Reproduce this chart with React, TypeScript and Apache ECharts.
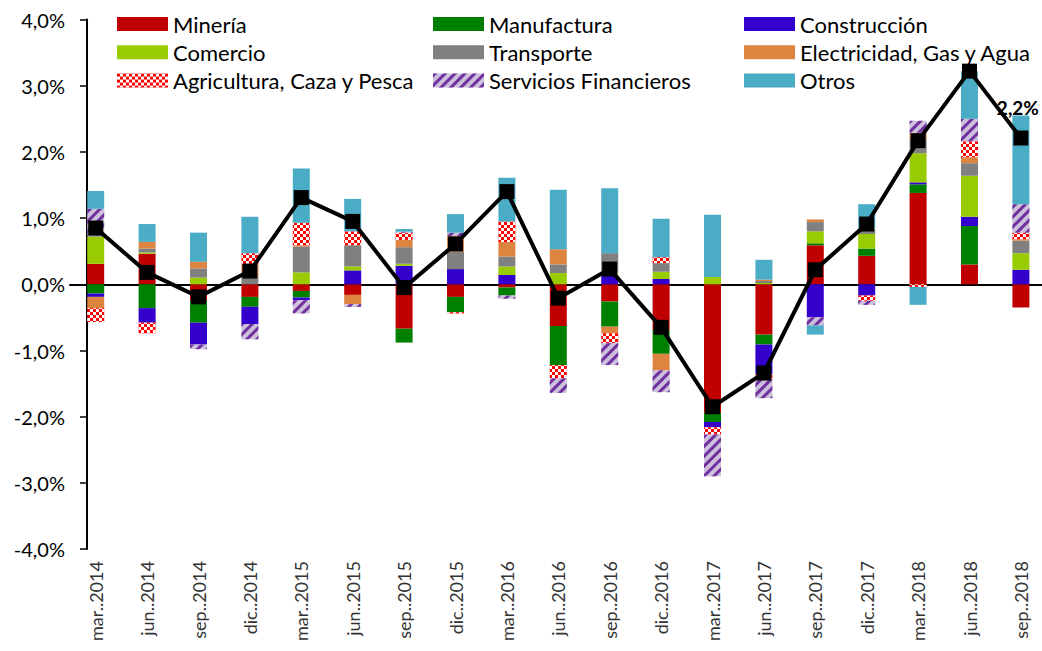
import React, { useEffect, useRef } from "react";
import * as echarts from "echarts";

const categories = [
  "mar..2014", "jun..2014", "sep..2014", "dic..2014",
  "mar..2015", "jun..2015", "sep..2015", "dic..2015",
  "mar..2016", "jun..2016", "sep..2016", "dic..2016",
  "mar..2017", "jun..2017", "sep..2017", "dic..2017",
  "mar..2018", "jun..2018", "sep..2018",
];

const mineria = [0.31, 0.46, -0.25, -0.19, -0.1, -0.16, -0.67, -0.19, -0.05, -0.63, -0.26, -0.69, -1.94, -0.76, 0.59, 0.43, 1.38, 0.3, -0.35];
const manufactura = [-0.14, -0.36, -0.33, -0.15, -0.1, 0, -0.21, -0.23, -0.12, -0.59, -0.38, -0.36, -0.14, -0.15, 0.03, 0.11, 0.13, 0.58, 0];
const construccion = [-0.05, -0.22, -0.33, -0.26, -0.04, 0.21, 0.28, 0.23, 0.14, 0, 0.13, 0.08, -0.08, -0.45, -0.5, -0.17, 0.03, 0.14, 0.22];
const comercio = [0.41, 0.02, 0.1, 0, 0.18, 0.06, 0.03, 0, 0.13, 0.17, 0.05, 0.11, 0.11, 0.02, 0.18, 0.22, 0.44, 0.62, 0.25];
const transporte = [0.03, 0.06, 0.14, 0.1, 0.39, 0.32, 0.25, 0.26, 0.15, 0.13, 0.29, 0.13, 0, 0.03, 0.14, 0.06, 0.23, 0.19, 0.19];
const electricidad = [-0.17, 0.1, 0.1, 0.2, 0.02, -0.14, 0.11, 0.24, 0.22, 0.23, -0.1, -0.25, 0, 0.02, 0.04, 0.02, 0.08, 0.09, 0.02];
const agricultura = [-0.21, -0.16, 0, 0.17, 0.34, 0.21, 0.11, -0.02, 0.31, -0.2, -0.15, 0.09, -0.11, -0.08, 0, -0.08, -0.04, 0.24, 0.1];
const serviciosFin = [0.39, 0, -0.07, -0.23, -0.2, -0.04, 0.015, 0.05, -0.05, -0.22, -0.33, -0.33, -0.63, -0.28, -0.12, -0.06, 0.18, 0.34, 0.43];
const otros = [0.27, 0.27, 0.44, 0.55, 0.82, 0.49, 0.04, 0.28, 0.66, 0.9, 0.98, 0.58, 0.94, 0.3, -0.14, 0.37, -0.27, 0.72, 1.34];
const total = [0.85, 0.18, -0.19, 0.2, 1.31, 0.95, -0.05, 0.61, 1.4, -0.21, 0.23, -0.65, -1.85, -1.34, 0.22, 0.91, 2.17, 3.22, 2.21];

const yTicks = { min: -4, max: 4, interval: 1 };

const FONT = "Lato";

const pct = (v: number) => v.toFixed(1).replace(".", ",") + "%";

export default function App() {
  const ref = useRef<HTMLDivElement>(null);

  useEffect(() => {
    if (!ref.current) return;
    const chart = echarts.init(ref.current, null, { renderer: "svg" });

    const barDefs: { name: string; data: number[]; color: string; decal?: any }[] = [
      { name: "Minería", data: mineria, color: "#C00000" },
      { name: "Manufactura", data: manufactura, color: "#008000" },
      { name: "Construcción", data: construccion, color: "#3300CC" },
      { name: "Comercio", data: comercio, color: "#99CC00" },
      { name: "Transporte", data: transporte, color: "#808080" },
      { name: "Electricidad, Gas y Agua", data: electricidad, color: "#DD8440" },
      {
        name: "Agricultura, Caza y Pesca",
        data: agricultura,
        color: "#FF0000",
        decal: {
          symbol: "rect",
          symbolSize: 1,
          color: "#FFFFFF",
          dashArrayX: [[3, 3], [0, 3, 3, 0]],
          dashArrayY: [3, 0],
        },
      },
      {
        name: "Servicios Financieros",
        data: serviciosFin,
        color: "#CCC0DA",
        decal: {
          symbol: "rect",
          symbolSize: 1,
          color: "#7030A0",
          dashArrayX: [1, 0],
          dashArrayY: [3, 4],
          rotation: -Math.PI / 4,
        },
      },
      { name: "Otros", data: otros, color: "#4BACC6" },
    ];

    const barSeries = barDefs.map((d) => ({
      name: d.name,
      type: "bar",
      stack: "total",
      barWidth: 17,
      data: d.data,
      itemStyle: d.decal ? { color: d.color, decal: d.decal } : { color: d.color },
      emphasis: { disabled: true },
    }));

    const lastIdx = total.length - 1;
    const lineData = total.map((v, i) =>
      i === lastIdx
        ? {
            value: v,
            label: {
              show: true,
              position: "top",
              distance: 13,
              offset: [-3, 0],
              formatter: (p: any) => pct(p.value),
              fontFamily: FONT,
              fontSize: 19,
              fontWeight: "bold",
              color: "#000",
            },
          }
        : v
    );

    const legendCommon = {
      orient: "vertical",
      top: 13,
      itemWidth: 51,
      itemHeight: 14,
      itemGap: 6.3,
      padding: 0,
      icon: "rect",
      selectedMode: false,
      textStyle: { fontFamily: FONT, fontSize: 22, color: "#000", lineHeight: 22 },
    };

    chart.setOption({
      animation: false,
      backgroundColor: "#fff",
      textStyle: { fontFamily: FONT },
      legend: [
        { ...legendCommon, left: 117, data: ["Minería", "Comercio", "Agricultura, Caza y Pesca"] },
        { ...legendCommon, left: 433, data: ["Manufactura", "Transporte", "Servicios Financieros"] },
        { ...legendCommon, left: 744, data: ["Construcción", "Electricidad, Gas y Agua", "Otros"] },
      ],
      grid: {
        left: 70,
        top: 19.5,
        width: 976.6,
        height: 529.6,
        outerBoundsMode: "none",
        containLabel: false,
      },
      xAxis: [
        {
          type: "category",
          data: categories,
          position: "bottom",
          axisLine: { show: false, onZero: false },
          axisTick: { show: false },
          axisLabel: {
            interval: 0,
            rotate: 90,
            margin: 12,
            fontFamily: FONT,
            fontSize: 18,
            color: "#333",
          },
          splitLine: { show: false },
        },
        {
          type: "category",
          data: categories,
          position: "bottom",
          axisLine: { show: true, onZero: true, lineStyle: { color: "#000", width: 2 } },
          axisTick: { show: false },
          axisLabel: { show: false },
          splitLine: { show: false },
        },
      ],
      yAxis: {
        type: "value",
        min: yTicks.min,
        max: yTicks.max,
        interval: yTicks.interval,
        offset: -17,
        axisLine: { show: true, lineStyle: { color: "#000", width: 2 } },
        axisTick: { show: true, length: 7, lineStyle: { color: "#000", width: 1.5 } },
        axisLabel: {
          formatter: (v: number) => pct(v),
          fontFamily: FONT,
          fontSize: 20,
          color: "#000",
          margin: 22,
        },
        splitLine: { show: false },
      },
      series: [
        ...barSeries,
        {
          name: "Total",
          type: "line",
          data: lineData,
          z: 10,
          symbol: "rect",
          symbolSize: 15,
          itemStyle: { color: "#000" },
          lineStyle: { color: "#000", width: 4 },
          emphasis: { disabled: true },
        },
      ],
    });

    return () => chart.dispose();
  }, []);

  return (
    <div
      ref={ref}
      style={{ position: "absolute", left: 0, top: 0, width: 1042, height: 651 }}
    />
  );
}
